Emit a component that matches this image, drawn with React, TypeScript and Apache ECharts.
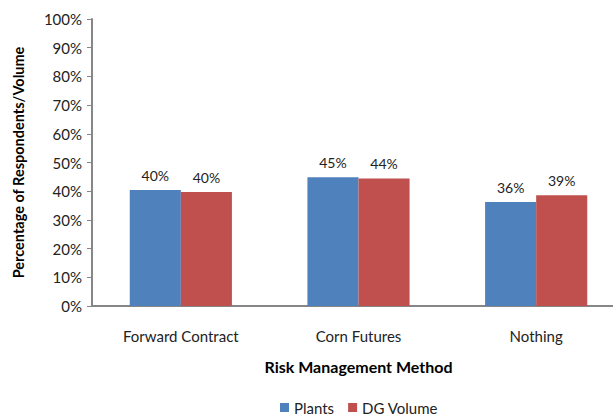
import React, { useEffect, useRef } from "react";
import * as echarts from "echarts";

const categories = ["Forward Contract", "Corn Futures", "Nothing"];
const plants = [40.4, 44.9, 36.2];
const dgVolume = [39.7, 44.4, 38.6];
const yTicks = [0, 10, 20, 30, 40, 50, 60, 70, 80, 90, 100];

const FONT = "Lato, 'Open Sans', sans-serif";

export default function App() {
  const ref = useRef<HTMLDivElement>(null);
  useEffect(() => {
    document.body.style.margin = "0";
    document.body.style.overflow = "hidden";
    const chart = echarts.init(ref.current!, null, { renderer: "svg" });
    chart.setOption({
      animation: false,
      textStyle: { fontFamily: FONT },
      grid: { left: 92, right: 0, top: 19, bottom: 109, containLabel: false },
      legend: {
        bottom: 0,
        left: 280,
        padding: 0,
        itemWidth: 9,
        itemHeight: 9,
        itemGap: 14,
        icon: "rect",
        textStyle: { fontFamily: FONT, fontSize: 15, color: "#222" },
        data: ["Plants", "DG Volume"],
      },
      xAxis: {
        type: "category",
        data: categories,
        name: "Risk Management Method",
        nameLocation: "middle",
        nameGap: 52,
        nameTextStyle: { fontFamily: FONT, fontSize: 16, fontWeight: "bold", color: "#000" },
        axisLine: { lineStyle: { color: "#868686", width: 2 } },
        axisTick: { show: false },
        axisLabel: { fontFamily: FONT, fontSize: 15, color: "#222", margin: 22 },
      },
      yAxis: {
        type: "value",
        min: 0,
        max: 100,
        interval: 10,
        name: "Percentage of Respondents/Volume",
        nameLocation: "middle",
        nameGap: 66,
        nameTextStyle: { fontFamily: FONT, fontSize: 14.5, fontWeight: "bold", color: "#000" },
        axisLine: { show: true, lineStyle: { color: "#868686", width: 2 } },
        axisTick: { show: true, length: 5, lineStyle: { color: "#868686" } },
        splitLine: { show: false },
        axisLabel: {
          fontFamily: FONT,
          fontSize: 15,
          color: "#222",
          margin: 10,
          formatter: (v: number) => (yTicks.includes(v) ? v + "%" : ""),
        },
      },
      series: [
        {
          name: "Plants",
          type: "bar",
          data: plants,
          barGap: "0%",
          barCategoryGap: "42.5%",
          itemStyle: { color: "#4F81BD" },
          label: {
            show: true,
            position: "top",
            distance: 8,
            fontFamily: FONT,
            fontSize: 14,
            color: "#222",
            formatter: (p: any) => Math.round(p.value) + "%",
          },
        },
        {
          name: "DG Volume",
          type: "bar",
          data: dgVolume,
          barGap: "0%",
          barCategoryGap: "42.5%",
          itemStyle: { color: "#C0504D" },
          label: {
            show: true,
            position: "top",
            distance: 8,
            fontFamily: FONT,
            fontSize: 14,
            color: "#222",
            formatter: (p: any) => Math.round(p.value) + "%",
          },
        },
      ],
    });
    return () => chart.dispose();
  }, []);
  return <div ref={ref} style={{ width: 625, height: 415, overflow: "hidden" }} />;
}
